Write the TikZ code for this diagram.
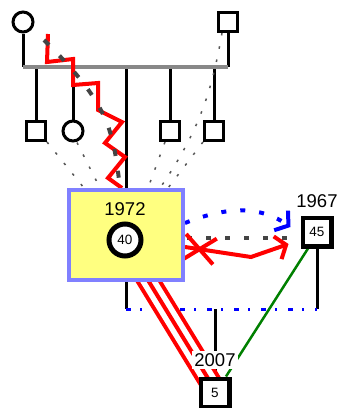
\documentclass[tikz,border=0pt]{standalone}
\usepackage{fontspec}
\setmainfont{Liberation Sans}
\usetikzlibrary{positioning,arrows.meta,shapes.misc}
\pgfdeclarelayer{bg}
\pgfsetlayers{bg,main}
\definecolor{hlfill}{HTML}{FFFF80}
\definecolor{hlborder}{HTML}{8080FF}
\definecolor{dashgray}{HTML}{444444}
\definecolor{bargray}{HTML}{888888}
\definecolor{faintgray}{HTML}{555555}
\definecolor{okgreen}{HTML}{008000}

\begin{document}
\begin{tikzpicture}[x=1pt,y=-1pt,on grid,
    >={Straight Barb[length=9pt,width=24pt]},
    male/.style={draw,line width=3pt,fill=white,minimum size=19pt,inner sep=0pt},
    female/.style={circle,draw,line width=3pt,fill=white,minimum size=20pt,inner sep=0pt},
    big/.style={line width=4.5pt,minimum size=28.5pt,font=\fontsize{13.5}{15}\selectfont},
    hlbox/.style={draw=hlborder,fill=hlfill,line width=4pt,minimum width=114pt,minimum height=90pt,inner sep=0pt},
    year/.style={font=\fontsize{18.5}{20}\selectfont,inner sep=0pt},
    ln/.style={line width=3pt},
    bar/.style={draw=bargray,line width=4pt},
    cpl/.style={draw=blue,line width=3pt,dash pattern=on 5pt off 9pt on 1.5pt off 11.5pt},
    hostile/.style={draw=red,line width=4pt},
    distant/.style={draw=dashgray,line width=4pt,dash pattern=on 7pt off 15pt},
    faint/.style={draw=faintgray,line width=1.5pt,dash pattern=on 2.5pt off 11pt},
    close/.style={draw=blue,line width=4pt,dash pattern=on 5pt off 14pt},
    xmark/.style={cross out,draw=red,line width=4pt,minimum width=27pt,minimum height=22pt,inner sep=0pt},
    triple/.style={draw=red,line width=23pt,postaction={draw=white,line width=15pt},postaction={draw=red,line width=4pt}}]
    \useasboundingbox (0,0) rectangle (340,408);

    \node[female] (mom) at (23,22) {};
    \node[male] (dad) [right=205pt of mom] {};
    \node[male] (c1) [below right=109pt and 13pt of mom] {};
    \node[female] (c2) [right=37pt of c1] {};
    \node[male] (c4) [right=134pt of c1] {};
    \node[male] (c5) [right=178pt of c1] {};
    \node[hlbox] (hl) [below right=213pt and 103pt of mom] {};
    \node[female,line width=5pt,minimum size=32pt,font=\fontsize{13.5}{15}\selectfont] (ego) [below left=5pt and 1pt of hl] {40};
    \node[year] (y72) [above=31pt of ego] {1972};
    \node[male,big] (sp) [above right=3pt and 191pt of hl] {45};
    \node[year] (y67) [above=31pt of sp] {1967};
    \node[male,big] (kid) [below right=158pt and 89pt of hl] {5};
    \node[year,fill=white,inner sep=2pt] (y07) [above=33pt of kid] {2007};

    \coordinate (sib) at ([yshift=-45pt]mom.center);
    \coordinate (mL) at ([yshift=-27pt]hl.south);

    \begin{pgfonlayer}{bg}
    \fill[white] (0,0) rectangle (340,408);
    % family lines
    \draw[ln] (mom) -- (mom |- sib);
    \draw[ln] (dad) -- (dad |- sib);
    \foreach \k in {c1,c2,hl,c4,c5}
        \draw[ln] (\k |- sib) -- (\k);
    \draw[bar] (mom |- sib) -- (dad |- sib);
    \draw[ln] (hl) -- (mL);
    \draw[ln] (sp) -- (sp |- mL);
    \draw[ln] (kid |- mL) -- (kid);
    \draw[cpl] (mL) -- (sp |- mL);

    % relationships
    \draw[hostile] ([shift={(25pt,-12pt)}]mom.center) -- ++(-1,28) -- ++(26,-3) -- ++(0,26) -- ++(25,-2)
        -- ++(0,27) -- ++(24,12) -- ++(-17,21) -- ++(20,14) -- ++(-17,21) -- ([xshift=-4pt]hl.north);
    \draw[distant] ([shift={(21pt,-18pt)}]mom.center) .. controls (110,105) and (113,130) .. ([xshift=-6pt]hl.north);
    \draw[faint] ([xshift=-6pt]dad.south) .. controls (212,90) and (200,130) .. ([xshift=34pt]hl.north);
    \draw[faint] (c5.south west) -- ([xshift=42pt]hl.north);
    \draw[faint] ([xshift=-5pt]c4.south) -- ([xshift=22pt]hl.north);
    \draw[faint] (c1.south east) -- ([xshift=-42pt]hl.north);
    \draw[faint] ([xshift=4pt]c2.south) -- ([xshift=-26pt]hl.north);
    \draw[close,->] ([yshift=12pt]hl.east) .. controls (230,205) and (262,207) .. ([shift={(-10pt,5pt)}]sp.west);
    \draw[distant,dash pattern=on 5pt off 14pt] ([shift={(2pt,-3pt)}]hl.east) -- ([shift={(-3pt,-6pt)}]sp.west);
    \draw[hostile,->] ([yshift=-12pt]hl.east) -- node[xmark,sloped,pos=.22] {} ++(66,10)
        -- ([shift={(-12pt,-12pt)}]sp.west);
    \draw[triple] ([shift={(17pt,10pt)}]hl.south) -- ([shift={(-2pt,-10pt)}]kid.north);
    \draw[draw=okgreen,line width=2.5pt] ([xshift=-9pt]sp.south) -- ([xshift=11pt]kid.north);
    \end{pgfonlayer}
\end{tikzpicture}
\end{document}
